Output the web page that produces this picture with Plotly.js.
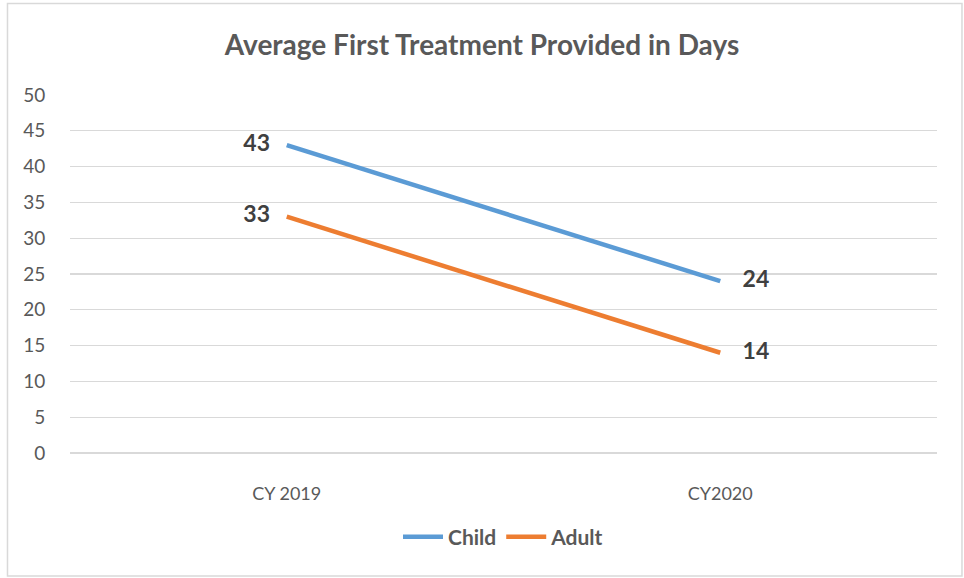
<!DOCTYPE html>
<html>
<head>
<meta charset="utf-8">
<script src="https://cdn.plot.ly/plotly-3.0.1.min.js"></script>
<style>html,body{margin:0;padding:0;background:#fff;}#chart{width:964px;height:578px;}</style>
</head>
<body>
<div id="chart"></div>
<script>
const categories = ["CY 2019", "CY2020"];
const childValues = [43, 24];
const adultValues = [33, 14];
const seriesNames = ["Child", "Adult"];
const yTicks = [0, 5, 10, 15, 20, 25, 30, 35, 40, 45, 50];

const FONT = "Lato, 'Open Sans', sans-serif";
const labelPos = ["middle left", "middle right"];

function trace(name, vals, color) {
  return {
    type: "scatter",
    mode: "lines+text",
    name: name,
    x: categories,
    y: vals,
    text: vals.map((v, i) => i === 0 ? (v + "   ") : ("    " + v)),
    textposition: labelPos,
    textfont: {family: FONT, size: 23, color: "#404040", weight: "bold"},
    line: {color: color, width: 4.5},
    cliponaxis: false
  };
}

const data = [
  trace(seriesNames[0], childValues, "#5B9BD5"),
  trace(seriesNames[1], adultValues, "#ED7D31")
];

const layout = {
  width: 964, height: 578,
  margin: {l: 70, r: 27, t: 95, b: 125},
  paper_bgcolor: "#fff", plot_bgcolor: "#fff",
  font: {family: FONT, color: "#595959", size: 19},
  title: {text: "<b>Average First Treatment Provided in Days</b>", x: 0.5, xanchor: "center", y: 0.922, yanchor: "middle", font: {family: FONT, size: 28, color: "#595959"}},
  xaxis: {type: "category", range: [-0.5, 1.5], showgrid: false, zeroline: false, showline: false,
    ticks: "outside", ticklen: 24, tickcolor: "rgba(0,0,0,0)", tickfont: {size: 18, color: "#595959"}},
  yaxis: {range: [0, 50], tickvals: yTicks, showgrid: true, gridcolor: "#D9D9D9", gridwidth: 1.3,
    zeroline: true, zerolinecolor: "#D9D9D9", zerolinewidth: 1.3, showline: false,
    ticks: "outside", ticklen: 20, tickcolor: "rgba(0,0,0,0)", tickfont: {size: 19, color: "#595959"}},
  showlegend: true,
  legend: {orientation: "h", x: 0.5, xanchor: "center", y: -0.235, yanchor: "middle",
    font: {family: FONT, size: 21, color: "#595959", weight: "bold"}, itemwidth: 40, tracegroupgap: 0},
  shapes: [{type: "rect", xref: "paper", yref: "paper", x0: -0.0721, x1: 1.0288, y0: -0.3436, y1: 1.2556,
    line: {color: "#D9D9D9", width: 1.5}, fillcolor: "rgba(0,0,0,0)", layer: "below"}]
};

Plotly.newPlot("chart", data, layout, {displayModeBar: false, staticPlot: true});
</script>
</body>
</html>
